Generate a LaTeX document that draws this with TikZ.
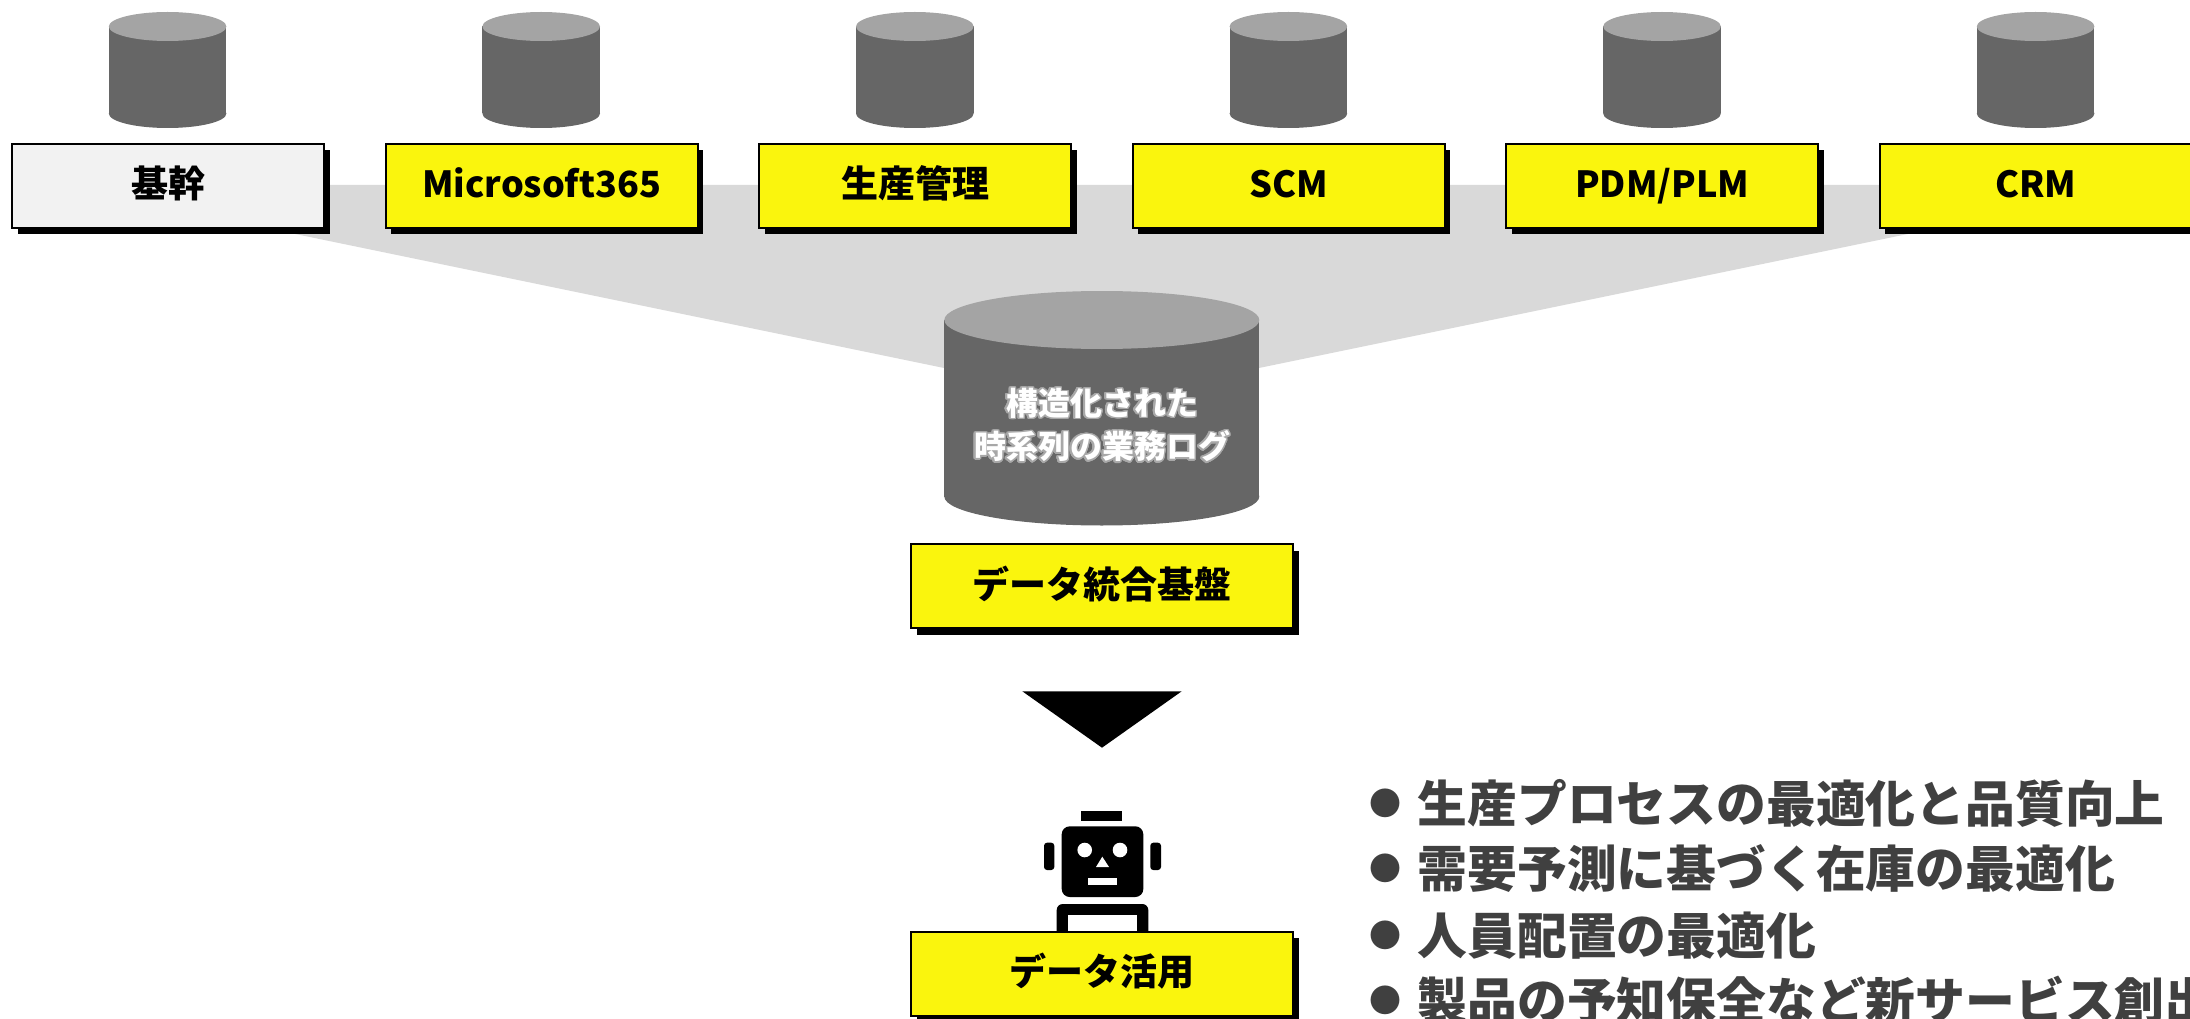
\documentclass[tikz,border=0pt]{standalone}
\usepackage{fontspec}
\usepackage[copies]{contour}
\usetikzlibrary{shadows}
\setmainfont{Noto Sans CJK JP}
\contourlength{1.4pt}
\definecolor{boxyellow}{HTML}{FAF50D}
\definecolor{boxgray}{HTML}{F2F2F2}
\definecolor{bandgray}{HTML}{D9D9D9}
\definecolor{dbbody}{HTML}{666666}
\definecolor{dbtop}{HTML}{A4A4A4}
\definecolor{glowgray}{HTML}{A8A8A8}
\definecolor{listgray}{HTML}{404040}
\newcommand{\listdot}{\makebox[48.5pt][l]{\raisebox{7pt}{\fontsize{32}{32}\selectfont ●}}}
% center x, end center y, radii, length
\newcommand{\dbdraw}[5]{
	\fill[dbbody] (#1-#3,#2) rectangle (#1+#3,#2+#5);
	\fill[dbbody] (#1,#2+#5) ellipse [x radius=#3,y radius=#4];
	\fill[dbtop] (#1,#2) ellipse [x radius=#3,y radius=#4];
}
\tikzset{
	sysbox/.style={draw=black,line width=2pt,fill=boxyellow,inner sep=0pt,minimum height=84pt,
		text height=28pt,text depth=4pt,
		drop shadow={shadow xshift=5.5pt,shadow yshift=-6.5pt,fill=black,opacity=1},
		font=\fontsize{36}{43}\selectfont\bfseries},
	smallbox/.style={sysbox,minimum width=312pt},
	widebox/.style={sysbox,minimum width=382pt},
	cjktext/.style={font=\fontsize{37}{44}\selectfont\bfseries},
	logtext/.style={inner sep=0pt,text=white,font=\fontsize{32}{38}\selectfont\bfseries},
	listitem/.style={anchor=west,inner sep=0pt,text=listgray,font=\fontsize{49.8}{60}\selectfont\bfseries}
}
\begin{document}
\begin{tikzpicture}[x=1pt,y=-1pt]
	\useasboundingbox (0,0) rectangle (2190,1019);
	\clip (0,0) rectangle (2190,1019);
	\fill[bandgray] (58,185) -- (2145,185) -- (1259,368) -- (944,368) -- cycle;
	\dbdraw{167.6}{26.5}{58.8}{14.5}{87}
	\dbdraw{541.2}{26.5}{58.8}{14.5}{87}
	\dbdraw{914.8}{26.5}{58.8}{14.5}{87}
	\dbdraw{1288.4}{26.5}{58.8}{14.5}{87}
	\dbdraw{1662}{26.5}{58.8}{14.5}{87}
	\dbdraw{2035.6}{26.5}{58.8}{14.5}{87}
	\draw (168,186) 	node (kikan) [smallbox,cjktext,fill=boxgray] {基幹};
	\draw (541.7,186) 	node (ms) [smallbox] {Microsoft365};
	\draw (915.3,186) 	node (seisan) [smallbox,cjktext] {生産管理};
	\draw (1288.9,186) 	node (scm) [smallbox] {SCM};
	\draw (1662.3,186) 	node (pdm) [smallbox] {PDM/PLM};
	\draw (2035.6,186) 	node (crm) [smallbox] {CRM};
	\dbdraw{1101.8}{320}{157.5}{29}{176.5}
	\draw (1102,404) 	node (logone) [logtext] {\contour[32]{glowgray}{構造化された}};
	\draw (1102,447) 	node (logtwo) [logtext] {\contour[32]{glowgray}{時系列の業務ログ}};
	\draw (1102,586) 	node (platform) [widebox,cjktext] {データ統合基盤};
	\fill (1022.3,691.3) -- (1181.7,691.3) -- (1102,747.7) -- cycle;
	\fill (1081.3,811) rectangle (1122,821.3);
	\fill[rounded corners=8pt] (1061.7,826.3) rectangle (1143.3,897);
	\fill[rounded corners=3pt] (1044,842.7) rectangle (1054.3,870);
	\fill[rounded corners=3pt] (1150.3,842.7) rectangle (1161,870);
	\fill[white] (1084.7,850) circle (7.3);
	\fill[white] (1120,850) circle (7.3);
	\fill[white] (1102.3,856.7) -- (1109,867) -- (1096,867) -- cycle;
	\fill[white] (1087.7,877.7) rectangle (1117.3,885.3);
	\fill[rounded corners=6pt] (1056.7,904) rectangle (1148.3,950);
	\fill[white] (1067.7,915.3) rectangle (1137.3,950);
	\draw (1102,973.5) 	node (usage) [widebox,cjktext] {データ活用};
	\draw (1369,803) 	node (itemone) [listitem] {\listdot 生産プロセスの最適化と品質向上};
	\draw (1369,868.5) 	node (itemtwo) [listitem] {\listdot 需要予測に基づく在庫の最適化};
	\draw (1369,935.5) 	node (itemthree) [listitem] {\listdot 人員配置の最適化};
	\draw (1369,1000.5) 	node (itemfour) [listitem] {\listdot 製品の予知保全など新サービス創出};
\end{tikzpicture}
\end{document}
